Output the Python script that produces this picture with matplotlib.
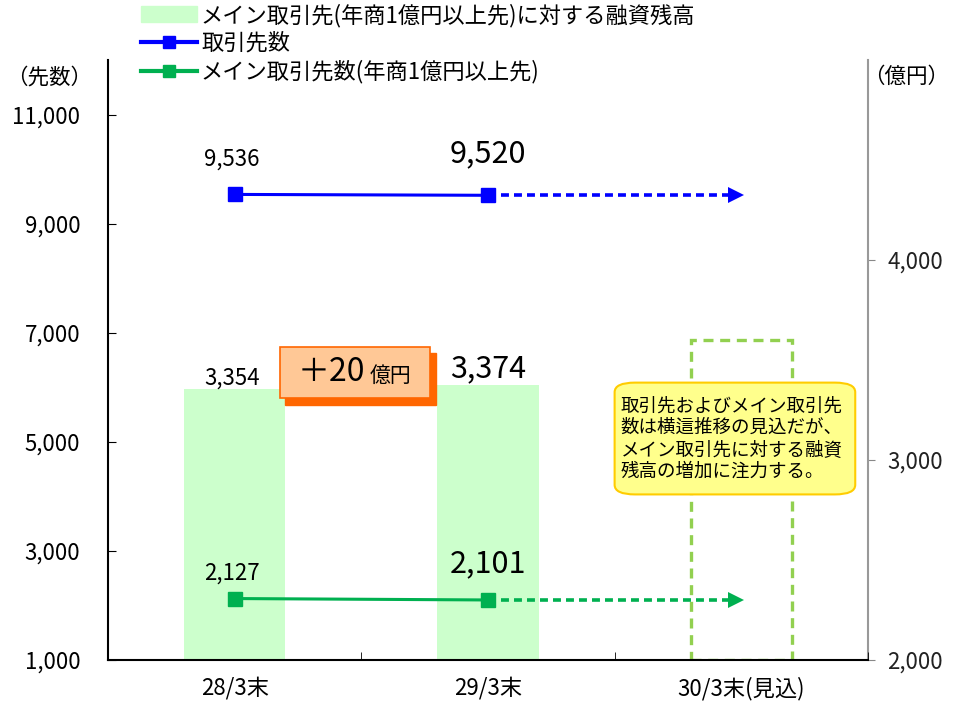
"""Main bank customers and loan balance chart."""

import matplotlib
matplotlib.use('Agg')
from matplotlib import pyplot as plt
from matplotlib.patches import FancyBboxPatch, Rectangle
from matplotlib.lines import Line2D

plt.rcParams['font.family'] = ['Noto Sans CJK JP', 'DejaVu Sans']

categories = ['28/3末', '29/3末', '30/3末(見込)']
loan_balance = [3354, 3374]          # 億円, right axis
customers = [9536, 9520]             # 先数, left axis
main_customers = [2127, 2101]        # 先数, left axis
forecast_box_top = 3600              # dashed box for 30/3
left_ticks = [1000, 3000, 5000, 7000, 9000, 11000]
right_ticks = [2000, 3000, 4000]

BLUE = '#0000FF'
GREEN = '#00B050'
BAR = '#CCFFCC'
LIME = '#92D050'


def main():
    fig = plt.figure(figsize=(9.57, 7.02), dpi=100)
    ax = fig.add_axes([0.1129, 0.0598, 0.794, 0.8547])
    ax2 = ax.twinx()
    ax.set_zorder(ax2.get_zorder() + 1)
    ax.patch.set_visible(False)

    x = list(range(len(categories)))

    # bars on right axis
    ax2.bar(x[:2], loan_balance, width=0.4, color=BAR, zorder=1)
    ax2.add_patch(Rectangle((x[2] - 0.2, 2000), 0.4, forecast_box_top - 2000,
                            fill=False, edgecolor=LIME, lw=2.4,
                            linestyle=(0, (3, 2)), zorder=2))
    ax2.set_ylim(2000, 5000)
    ax2.set_yticks(right_ticks)
    ax2.set_yticklabels([f'{v:,}' for v in right_ticks], fontsize=16)
    ax2.tick_params(axis='y', colors='#888888', labelcolor='#222222',
                    direction='out', length=5, pad=9)
    for s in ['top', 'left', 'bottom']:
        ax2.spines[s].set_visible(False)
    ax2.spines['right'].set_color('#999999')
    ax2.spines['right'].set_linewidth(1.5)

    # lines on left axis
    ax.plot(x[:2], customers, color=BLUE, lw=2.2, marker='s', ms=10, zorder=5)
    ax.plot(x[:2], main_customers, color=GREEN, lw=2.2, marker='s', ms=10,
            zorder=5)
    for vals, col in [(customers, BLUE), (main_customers, GREEN)]:
        ax.plot([x[1] + 0.05, x[2] - 0.05], [vals[1], vals[1]], color=col,
                lw=2.6, linestyle=(0, (2.2, 1.4)), zorder=4)
        ax.plot([x[2] - 0.02], [vals[1]], color=col, marker='>', ms=11,
                markeredgewidth=0, zorder=4)

    ax.set_xlim(-0.5, 2.5)
    ax.set_ylim(1000, 12000)
    ax.set_yticks(left_ticks)
    ax.set_yticklabels([f'{v:,}' for v in left_ticks], fontsize=16)
    ax.tick_params(axis='y', direction='in', length=6, pad=20)
    ax.set_xticks(x)
    ax.set_xticklabels(categories, fontsize=16)
    ax.set_xticks([-0.5, 0.5, 1.5, 2.5], minor=True)
    ax.tick_params(axis='x', which='major', length=0, pad=12)
    ax.tick_params(axis='x', which='minor', direction='in', length=6)
    for s in ['top', 'right']:
        ax.spines[s].set_visible(False)
    ax.spines['left'].set_linewidth(1.5)
    ax.spines['bottom'].set_linewidth(1.5)

    # value labels
    ax.text(x[0] - 0.01, customers[0] + 640, f'{customers[0]:,}',
            ha='center', va='center', fontsize=16)
    ax.text(x[1], customers[1] + 767, f'{customers[1]:,}',
            ha='center', va='center', fontsize=22)
    ax.text(x[0] - 0.01, main_customers[0] + 463, f'{main_customers[0]:,}',
            ha='center', va='center', fontsize=16)
    ax.text(x[1], main_customers[1] + 672, f'{main_customers[1]:,}',
            ha='center', va='center', fontsize=22)
    ax2.text(x[0] - 0.01, loan_balance[0] + 54, f'{loan_balance[0]:,}',
             ha='center', va='center', fontsize=16, zorder=6)
    ax2.text(x[1], loan_balance[1] + 84, f'{loan_balance[1]:,}',
             ha='center', va='center', fontsize=22, zorder=6)

    # +20億円 badge
    ax2.add_patch(Rectangle((0.20, 3275), 0.593, 259, color='#FF6600',
                            zorder=3))
    ax2.add_patch(Rectangle((0.18, 3308), 0.593, 259, facecolor='#FFC896',
                            edgecolor='#FF6600', lw=1.2, zorder=4))
    ax2.text(0.38, 3440, '＋20', ha='center', va='center', fontsize=23,
             zorder=5)
    ax2.text(0.615, 3420, '億円', ha='center', va='center', fontsize=15,
             zorder=5)

    # callout
    ax2.add_patch(FancyBboxPatch((1.52, 2840), 0.91, 535,
                                 boxstyle='round,pad=0.02,rounding_size=0.08',
                                 mutation_aspect=600, facecolor='#FFFF8C',
                                 edgecolor='#FFCC00', lw=1.5, zorder=6))
    ax2.text(1.524, 3104,
             '取引先およびメイン取引先\n数は横這推移の見込だが、\n'
             'メイン取引先に対する融資\n残高の増加に注力する。',
             ha='left', va='center', fontsize=13.3, linespacing=1.28,
             zorder=7)

    # axis unit labels
    fig.text(0.006, 0.89, '（先数）', fontsize=15.5, ha='left', va='center')
    fig.text(0.992, 0.89, '（億円）', fontsize=15.5, ha='right', va='center')

    # legend
    handles = [Rectangle((0, 0), 1, 1, color=BAR),
               Line2D([], [], color=BLUE, lw=3, marker='s', ms=8),
               Line2D([], [], color=GREEN, lw=3, marker='s', ms=8)]
    labels = ['メイン取引先(年商1億円以上先)に対する融資残高', '取引先数',
              'メイン取引先数(年商1億円以上先)']
    fig.legend(handles, labels, loc='upper left',
               bbox_to_anchor=(0.138, 1.008), frameon=False, fontsize=16,
               handlelength=2.5, handletextpad=0.2, labelspacing=0.22,
               borderaxespad=0)

    fig.savefig('out.png', dpi=100)


if __name__ == '__main__':
    main()
